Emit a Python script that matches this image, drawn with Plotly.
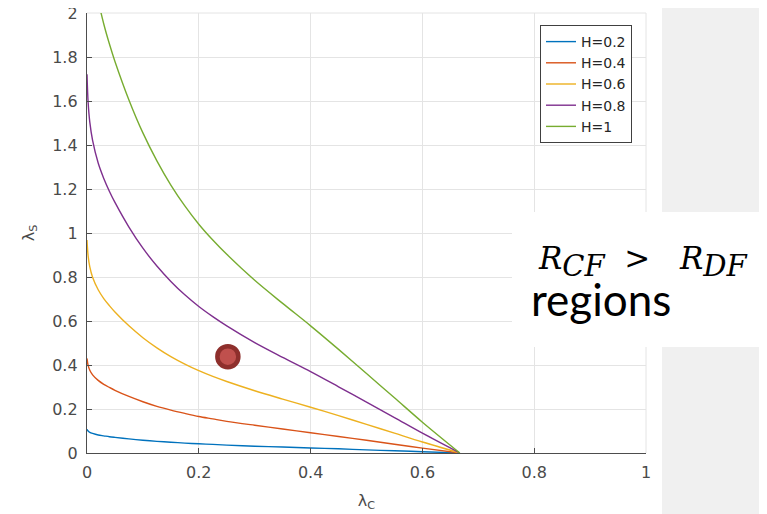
import plotly.graph_objects as go

# ---------------- data ----------------
lambda_c = [0, 0.002, 0.005, 0.01, 0.02, 0.03, 0.04, 0.05, 0.075, 0.1, 0.125, 0.15,
            0.175, 0.2, 0.225, 0.25, 0.3, 0.35, 0.4, 0.45, 0.5, 0.55, 0.6, 0.667]

ls_h02 = [0.108, 0.100, 0.094, 0.089, 0.082, 0.078, 0.074, 0.071, 0.064, 0.058, 0.053, 0.049,
          0.045, 0.042, 0.039, 0.036, 0.031, 0.027, 0.023, 0.019, 0.014, 0.010, 0.006, 0]
ls_h04 = [0.430, 0.398, 0.376, 0.355, 0.330, 0.312, 0.298, 0.285, 0.257, 0.233, 0.212, 0.195,
          0.180, 0.166, 0.155, 0.144, 0.126, 0.109, 0.092, 0.075, 0.058, 0.040, 0.022, 0]
ls_h06 = [0.968, 0.896, 0.846, 0.799, 0.742, 0.702, 0.670, 0.641, 0.578, 0.524, 0.478, 0.438,
          0.404, 0.374, 0.348, 0.325, 0.283, 0.245, 0.208, 0.170, 0.130, 0.090, 0.050, 0]
ls_h08 = [1.722, 1.594, 1.504, 1.421, 1.318, 1.248, 1.190, 1.139, 1.027, 0.931, 0.850, 0.780,
          0.719, 0.666, 0.620, 0.578, 0.502, 0.435, 0.370, 0.301, 0.231, 0.161, 0.090, 0]
ls_h10 = [2.69, 2.49, 2.35, 2.22, 2.06, 1.95, 1.86, 1.78, 1.605, 1.455, 1.328, 1.218,
          1.123, 1.04, 0.968, 0.903, 0.785, 0.68, 0.578, 0.471, 0.361, 0.251, 0.14, 0]

series_names = ["H=0.2", "H=0.4", "H=0.6", "H=0.8", "H=1"]
series_values = [ls_h02, ls_h04, ls_h06, ls_h08, ls_h10]
series_colors = ["#0072BD", "#D95319", "#EDB120", "#7E2F8E", "#77AC30"]

dot_x = [0.252]
dot_y = [0.438]

x_tickvals = [0, 0.2, 0.4, 0.6, 0.8, 1]
x_ticktext = ["0", "0.2", "0.4", "0.6", "0.8", "1"]
y_tickvals = [0, 0.2, 0.4, 0.6, 0.8, 1, 1.2, 1.4, 1.6, 1.8, 2]
y_ticktext = ["0", "0.2", "0.4", "0.6", "0.8", "1", "1.2", "1.4", "1.6", "1.8", "2"]

# ---------------- figure ----------------
# the page body has an 8px margin, so the figure is drawn 8px in from the top-left
OFF = 8
W, H = 767 - OFF, 514 - OFF
PLOT_L, PLOT_R, PLOT_T, PLOT_B = 87, 646, 13, 453   # page pixels of the plot area
ML, MT = PLOT_L - OFF, PLOT_T - OFF
MR, MB = 767 - PLOT_R, 514 - PLOT_B
PW, PH = PLOT_R - PLOT_L, PLOT_B - PLOT_T


def px_x(p):
    return (p - PLOT_L) / PW


def px_y(p):
    return (PLOT_B - p) / PH


fig = go.Figure()
for name, vals, col in zip(series_names, series_values, series_colors):
    fig.add_trace(go.Scatter(
        x=lambda_c, y=vals, mode="lines", name=name,
        line=dict(color=col, width=1.4, shape="spline", smoothing=0.9),
    ))

fig.add_trace(go.Scatter(
    x=dot_x, y=dot_y, mode="markers", showlegend=False,
    marker=dict(size=21, color="#C0504D", line=dict(color="#8E2F2C", width=4.5)),
    cliponaxis=False,
))

tick_font = dict(family="DejaVu Sans", size=16, color="#4a4a4a")
title_font = dict(family="DejaVu Sans", size=16, color="#4a4a4a")
GRID = "#e4e4e4"

fig.update_xaxes(
    range=[0, 1], tickvals=x_tickvals, ticktext=x_ticktext,
    showgrid=True, gridcolor=GRID, gridwidth=1,
    showline=True, linecolor="#4d4d4d", linewidth=1.3,
    ticks="inside", ticklen=5, tickcolor="#4d4d4d",
    tickfont=tick_font, zeroline=False, automargin=False,
    ticklabelstandoff=5, ticklabeloverflow="allow",
    title=dict(text="λ<sub>C</sub>", font=title_font, standoff=13),
)
fig.update_yaxes(
    range=[0, 2], tickvals=y_tickvals, ticktext=y_ticktext,
    showgrid=True, gridcolor=GRID, gridwidth=1,
    showline=True, linecolor="#4d4d4d", linewidth=1.3,
    ticks="inside", ticklen=5, tickcolor="#4d4d4d",
    tickfont=tick_font, zeroline=False, automargin=False,
    ticklabelstandoff=5, ticklabeloverflow="allow",
    title=dict(text="λ<sub>S</sub>", font=title_font, standoff=13),
)

shapes = [
    # light grey slide background strip on the right
    dict(type="rect", xref="paper", yref="paper", layer="below",
         x0=px_x(662), x1=px_x(767), y0=px_y(514), y1=px_y(0),
         fillcolor="#f0f0f0", line=dict(width=0)),
    # grid lines on the top and right edges of the axes box
    dict(type="line", xref="paper", yref="paper", layer="below",
         x0=0, x1=1, y0=1, y1=1, line=dict(color=GRID, width=1)),
    dict(type="line", xref="paper", yref="paper", layer="below",
         x0=1, x1=1, y0=0, y1=1, line=dict(color=GRID, width=1)),
    # white text box
    dict(type="rect", xref="paper", yref="paper", layer="above",
         x0=px_x(512), x1=px_x(767), y0=px_y(347), y1=px_y(212),
         fillcolor="white", line=dict(width=0)),
]

formula = ("<i>R</i><sub><span style='font-size:29px'><i>CF</i></span></sub>"
           "&nbsp;&nbsp;>&nbsp;&nbsp;&nbsp;"
           "<i>R</i><sub><span style='font-size:29px'><i>DF</i></span></sub>")

annotations = [
    dict(xref="paper", yref="paper", x=px_x(536), y=px_y(261), xanchor="left", yanchor="middle",
         showarrow=False, text=formula,
         font=dict(family="DejaVu Serif", size=31, color="#000000")),
    dict(xref="paper", yref="paper", x=px_x(529), y=px_y(299), xanchor="left", yanchor="middle",
         showarrow=False, text="regions",
         font=dict(family="Lato", size=44, color="#000000")),
]

fig.update_layout(
    width=W, height=H,
    margin=dict(l=ML, r=MR, t=MT, b=MB, pad=0),
    paper_bgcolor="white", plot_bgcolor="white",
    shapes=shapes, annotations=annotations,
    showlegend=True,
    legend=dict(
        x=px_x(632), y=px_y(25), xanchor="right", yanchor="top",
        bgcolor="white", bordercolor="#404040", borderwidth=1,
        font=dict(family="DejaVu Sans", size=14, color="#262626"),
        tracegroupgap=0,
    ),
)

fig.write_html("out.html")
